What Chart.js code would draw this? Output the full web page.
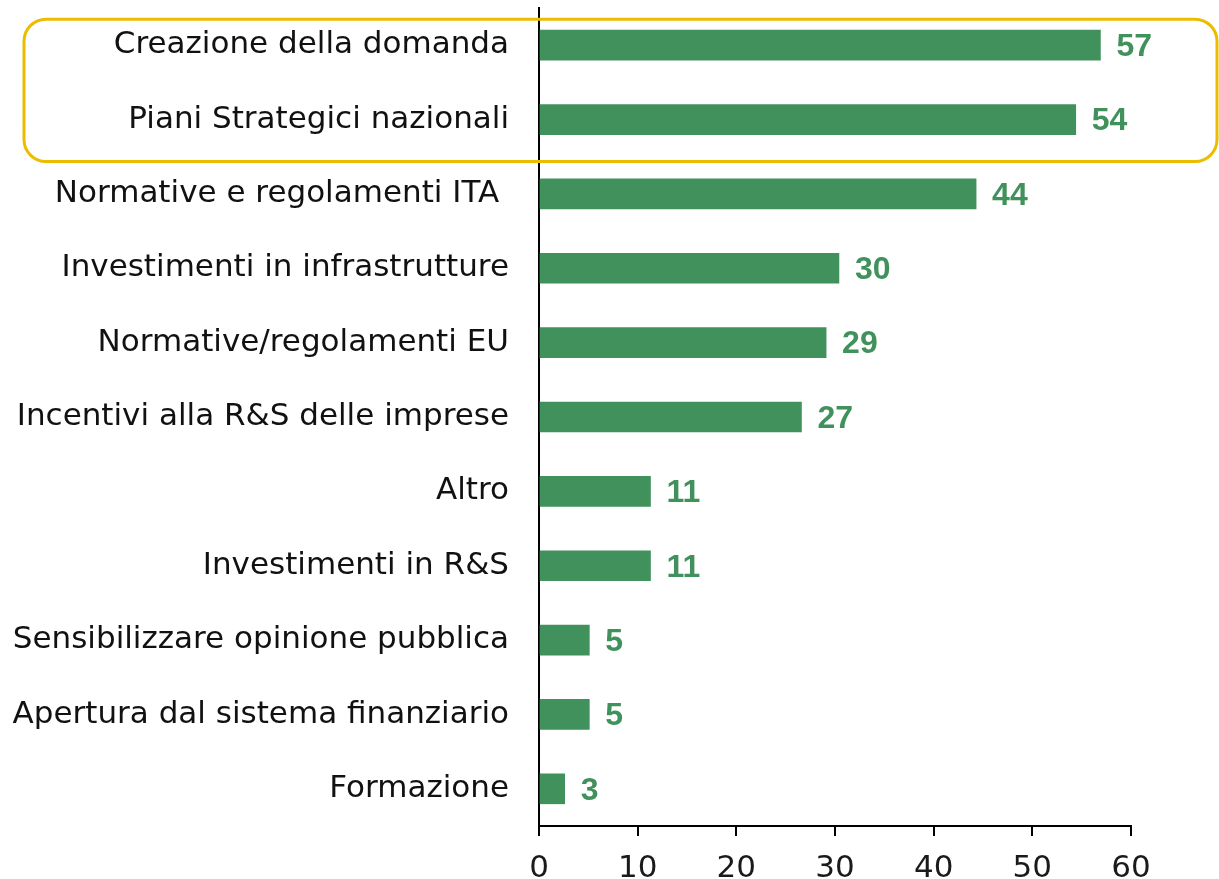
<!DOCTYPE html>
<html>
<head>
<meta charset="utf-8">
<script src="https://cdn.jsdelivr.net/npm/chart.js@4"></script>
<style>
  html, body { margin: 0; padding: 0; background: #fff; }
  #wrap { position: relative; width: 1219px; height: 879px; }
</style>
</head>
<body>
<div id="wrap"><canvas id="chart"></canvas></div>
<script>
// categorie e valori
const categories = [
    'Creazione della domanda',
    'Piani Strategici nazionali',
    'Normative e regolamenti ITA ',
    'Investimenti in infrastrutture',
    'Normative/regolamenti EU',
    'Incentivi alla R&S delle imprese',
    'Altro',
    'Investimenti in R&S',
    'Sensibilizzare opinione pubblica',
    'Apertura dal sistema finanziario',
    'Formazione'
];
const values = [56.9, 54.4, 44.3, 30.4, 29.1, 26.6, 11.3, 11.3, 5.1, 5.1, 2.6];
const xTicks = [0, 10, 20, 30, 40, 50, 60];

const green = '#41915c';
const labelFont = '"DejaVu Sans", sans-serif';

// etichette dei valori a destra delle barre
const valueLabels = {
    id: 'valueLabels',
    afterDatasetsDraw(chart) {
        const ctx = chart.ctx;
        const meta = chart.getDatasetMeta(0);
        ctx.save();
        ctx.fillStyle = green;
        ctx.font = 'bold 32px "Liberation Sans", sans-serif';
        ctx.textAlign = 'left';
        ctx.textBaseline = 'middle';
        meta.data.forEach((bar, i) => {
            ctx.fillText(String(Math.round(values[i])), bar.x + 16, bar.y + 2);
        });
        ctx.restore();
    }
};

// riquadro giallo attorno alle prime due voci
const highlightBox = {
    id: 'highlightBox',
    afterDraw(chart) {
        const y = chart.scales.y;
        const ctx = chart.ctx;
        const top = y.getPixelForValue(0) - 26;
        const bottom = y.getPixelForValue(1) + 42;
        const left = 24, right = 1217, r = 22;
        ctx.save();
        ctx.strokeStyle = '#ecbc00';
        ctx.lineWidth = 3;
        ctx.beginPath();
        ctx.roundRect(left, top, right - left, bottom - top, r);
        ctx.stroke();
        ctx.restore();
    }
};

new Chart(document.getElementById('chart'), {
    type: 'bar',
    data: {
        labels: categories,
        datasets: [{
            data: values,
            backgroundColor: green,
            barThickness: 30
        }]
    },
    options: {
        indexAxis: 'y',
        responsive: true,
        maintainAspectRatio: false,
        animation: false,
        layout: { padding: { top: 8, right: 88, left: 0, bottom: 0 } },
        plugins: {
            legend: { display: false },
            tooltip: { enabled: false }
        },
        scales: {
            x: {
                min: 0,
                max: 60,
                afterBuildTicks(axis) {
                    axis.ticks = xTicks.map(v => ({ value: v }));
                },
                afterFit(axis) {
                    axis.height = 53;
                    axis.paddingLeft = 0;
                    axis.paddingRight = 0;
                },
                grid: {
                    drawOnChartArea: false,
                    drawTicks: true,
                    tickLength: 10,
                    color: '#000',
                    lineWidth: 2
                },
                border: { color: '#000', width: 2 },
                ticks: {
                    color: '#1a1a1a',
                    padding: 14,
                    font: { family: labelFont, size: 31 }
                }
            },
            y: {
                afterFit(axis) {
                    axis.width = 539;
                    axis.paddingTop = 0;
                    axis.paddingBottom = 0;
                },
                grid: { display: false },
                border: { color: '#000', width: 2 },
                ticks: {
                    color: '#111',
                    padding: 22,
                    font: { family: labelFont, size: 31 }
                }
            }
        }
    },
    plugins: [valueLabels, highlightBox]
});
</script>
</body>
</html>
